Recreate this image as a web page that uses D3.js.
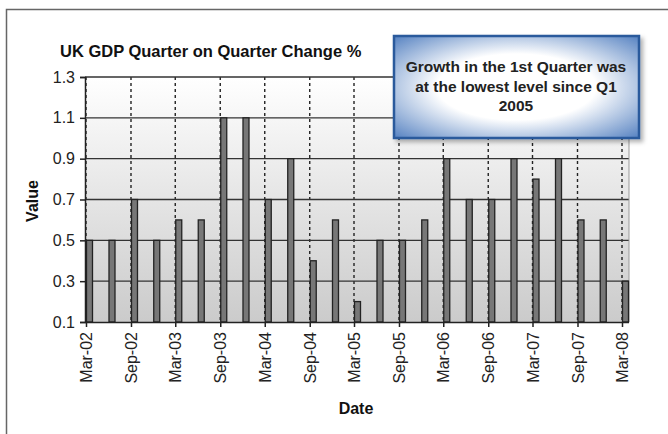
<!DOCTYPE html>
<html><head><meta charset="utf-8">
<script src="https://cdn.jsdelivr.net/npm/d3@7"></script>
<style>html,body{margin:0;padding:0;background:#fff;}svg{display:block;}</style>
</head><body>
<svg id="c" width="668" height="434"></svg>
<script>
const quarters = ["2002-03","2002-06","2002-09","2002-12","2003-03","2003-06","2003-09","2003-12",
  "2004-03","2004-06","2004-09","2004-12","2005-03","2005-06","2005-09","2005-12",
  "2006-03","2006-06","2006-09","2006-12","2007-03","2007-06","2007-09","2007-12","2008-03"];
const values = [0.5,0.5,0.7,0.5,0.6,0.6,1.1,1.1,0.7,0.9,0.4,0.6,0.2,0.5,0.5,0.6,0.9,0.7,0.7,0.9,0.8,0.9,0.6,0.6,0.3];
const tickDates = ["2002-03","2002-09","2003-03","2003-09","2004-03","2004-09","2005-03","2005-09","2006-03","2006-09","2007-03","2007-09","2008-03"];
const tickLabels = ["Mar-02","Sep-02","Mar-03","Sep-03","Mar-04","Sep-04","Mar-05","Sep-05","Mar-06","Sep-06","Mar-07","Sep-07","Mar-08"];
const yTicks = [0.1,0.3,0.5,0.7,0.9,1.1,1.3];
const title = "UK GDP Quarter on Quarter Change %";
const note = ["Growth in the 1st Quarter was","at the lowest level since Q1","2005"];

const FONT = "Liberation Sans, Arial, sans-serif";
const parse = d3.timeParse("%Y-%m");
const svg = d3.select("#c");
const L = 85, R = 629, T = 77, B = 322;
const x = d3.scaleTime().domain([parse("2002-03"), parse("2008-03")]).range([86, 622]);
const y = d3.scaleLinear().domain([0.1, 1.3]).range([B, T]);

const defs = svg.append("defs");
const bg = defs.append("linearGradient").attr("id","bg").attr("x1",0).attr("y1",0).attr("x2",0).attr("y2",1);
bg.append("stop").attr("offset","0%").attr("stop-color","#ffffff");
bg.append("stop").attr("offset","100%").attr("stop-color","#cbcbcb");

// outer border
svg.append("path").attr("d","M6.5,434 L6.5,9.5 L668,9.5").attr("fill","none").attr("stroke","#666").attr("stroke-width",1.5);

// plot background
svg.append("rect").attr("x",L).attr("y",T).attr("width",R-L).attr("height",B-T).attr("fill","url(#bg)");

// vertical dashed gridlines
svg.append("g").selectAll("line").data(tickDates).join("line")
  .attr("x1",d=>x(parse(d))).attr("x2",d=>x(parse(d)))
  .attr("y1",T).attr("y2",B)
  .attr("stroke","#222").attr("stroke-width",1.4).attr("stroke-dasharray","3,3");

// horizontal gridlines
svg.append("g").selectAll("line").data(yTicks.slice(1)).join("line")
  .attr("x1",L).attr("x2",R).attr("y1",d=>y(d)).attr("y2",d=>y(d))
  .attr("stroke","#333").attr("stroke-width",1.3);

// right edge
svg.append("line").attr("x1",R).attr("x2",R).attr("y1",T).attr("y2",B).attr("stroke","#999").attr("stroke-width",1);

// bars
svg.append("g").selectAll("rect").data(values).join("rect")
  .attr("x",(d,i)=>x(parse(quarters[i]))+0.5)
  .attr("width",6)
  .attr("y",d=>y(d))
  .attr("height",d=>B-y(d))
  .attr("fill","#777").attr("stroke","#222").attr("stroke-width",1.3);

// axes
const yAxis = d3.axisLeft(y).tickValues(yTicks).tickFormat(d3.format(".1f")).tickSize(5).tickPadding(5);
const gy = svg.append("g").attr("transform",`translate(${L},0)`).call(yAxis);
gy.select(".domain").attr("stroke","#222").attr("stroke-width",1.5);
gy.selectAll(".tick line").attr("stroke","#222").attr("stroke-width",1.5);
gy.selectAll("text").attr("font-family",FONT).attr("font-size",16).attr("fill","#222");

const xAxis = d3.axisBottom(x).tickValues(tickDates.map(parse)).tickFormat((d,i)=>tickLabels[i]).tickSize(5).tickPadding(4).tickSizeOuter(0);
const gx = svg.append("g").attr("transform",`translate(0,${B})`).call(xAxis);
gx.select(".domain").attr("stroke","#222").attr("stroke-width",1.5).attr("d",`M${L},0.5H${R}`);
gx.selectAll(".tick line").attr("stroke","#222").attr("stroke-width",1.5);
gx.selectAll("text").attr("font-family",FONT).attr("font-size",16).attr("fill","#222")
  .attr("transform","rotate(-90)").attr("text-anchor","end").attr("dy","0.35em").attr("x",-10).attr("y",0);

// titles
svg.append("text").attr("x",60).attr("y",57).text(title)
  .attr("font-family",FONT).attr("font-weight","bold").attr("font-size",16.5).attr("fill","#111");
svg.append("text").attr("transform","translate(38,201) rotate(-90)").attr("text-anchor","middle").text("Value")
  .attr("font-family",FONT).attr("font-weight","bold").attr("font-size",16).attr("fill","#111");
svg.append("text").attr("x",356).attr("y",414).attr("text-anchor","middle").text("Date")
  .attr("font-family",FONT).attr("font-weight","bold").attr("font-size",16).attr("fill","#111");

// callout
const cg = defs.append("radialGradient").attr("id","cg").attr("cx","50%").attr("cy","50%").attr("r","72%");
cg.append("stop").attr("offset","45%").attr("stop-color","#ffffff");
cg.append("stop").attr("offset","100%").attr("stop-color","#4f7dbf");
const filt = defs.append("filter").attr("id","sh").attr("x","-10%").attr("y","-10%").attr("width","130%").attr("height","140%");
filt.append("feDropShadow").attr("dx",3).attr("dy",3).attr("stdDeviation",2).attr("flood-color","#000").attr("flood-opacity",0.3);
svg.append("rect").attr("x",394).attr("y",36).attr("width",245).attr("height",102)
  .attr("fill","url(#cg)").attr("stroke","#2b5a9c").attr("stroke-width",2.5).attr("filter","url(#sh)");
svg.append("g").selectAll("text").data(note).join("text")
  .attr("x",516).attr("y",(d,i)=>72+i*19.5).attr("text-anchor","middle").text(d=>d)
  .attr("font-family",FONT).attr("font-weight","bold").attr("font-size",15.5).attr("fill","#222");
</script>
</body></html>
